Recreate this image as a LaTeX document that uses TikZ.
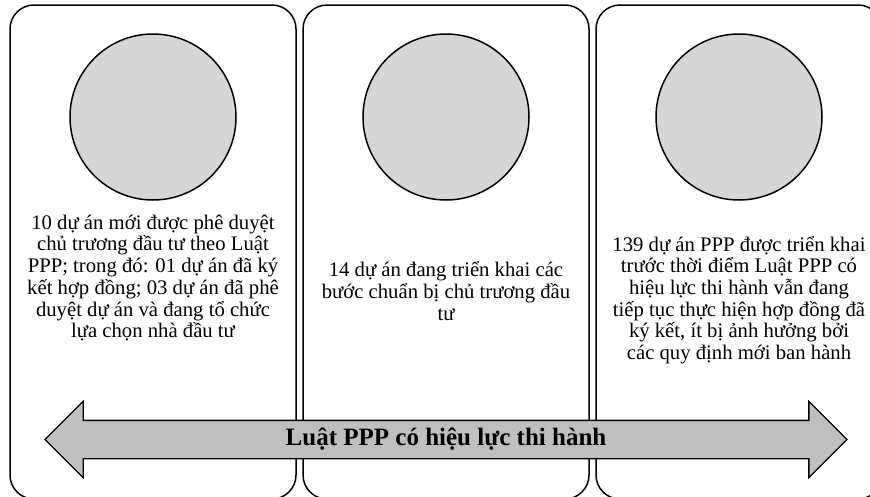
\documentclass[tikz,border=0pt]{standalone}
\usepackage{fontspec}
\setmainfont{Liberation Serif}
\usepackage{tikz}
\usetikzlibrary{arrows.meta,positioning,shapes.arrows}
\definecolor{discgray}{HTML}{D6D6D6}
\definecolor{arwgray}{HTML}{BFBFBF}

\begin{document}
\begin{tikzpicture}[x=1pt,y=-1pt,node distance=7pt,
  pnl/.style={draw,line width=1.5pt,rounded corners=24pt,minimum width=286pt,minimum height=494pt,outer sep=0pt},
  disc/.style={circle,draw,line width=1.5pt,fill=discgray,minimum size=166pt,outer sep=0pt},
  txt/.style={align=center,font=\fontsize{20.7}{21.7}\selectfont,inner sep=0pt},
  arw/.style={double arrow,draw,line width=1.3pt,fill=arwgray,double arrow head extend=19pt,minimum width=75pt,minimum height=802pt,
    text height=17pt,text depth=6pt,inner xsep=0pt,inner ysep=7pt,font=\bfseries\fontsize{25}{26}\selectfont}]
\useasboundingbox (0,0) rectangle (870,496);
\clip (0,0) rectangle (870,496);
\node[pnl] (p1) at (153,252) {};
\node[pnl,right=of p1] (p2) {};
\node[pnl,right=of p2] (p3) {};
\node[disc,below=29pt of p1.north] (c1) {};
\node[disc,below=29pt of p2.north] (c2) {};
\node[disc,below=29pt of p3.north] (c3) {};
\node[txt] (t1) at (153,278) {10 dự án mới được phê duyệt\\chủ trương đầu tư theo Luật\\PPP; trong đó: 01 dự án đã ký\\kết hợp đồng; 03 dự án đã phê\\duyệt dự án và đang tổ chức\\lựa chọn nhà đầu tư};
\node[txt] (t2) at (446,291) {14 dự án đang triển khai các\\bước chuẩn bị chủ trương đầu\\tư};
\node[txt] (t3) at (739,300) {139 dự án PPP được triển khai\\trước thời điểm Luật PPP có\\hiệu lực thi hành vẫn đang\\tiếp tục thực hiện hợp đồng đã\\ký kết, ít bị ảnh hưởng bởi\\các quy định mới ban hành};
\node[arw] (law) at (446,439.5) {Luật PPP có hiệu lực thi hành};
\end{tikzpicture}
\end{document}
